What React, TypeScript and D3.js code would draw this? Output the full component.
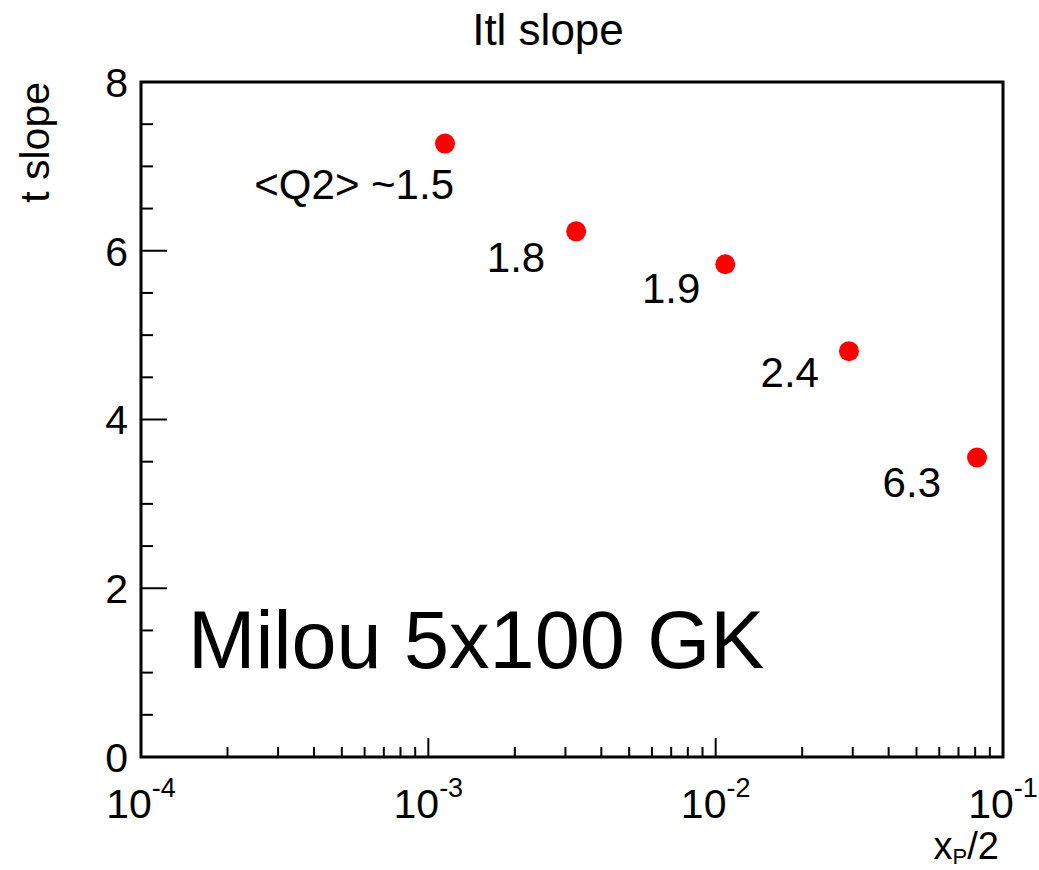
import React from "react";
import * as d3 from "d3";

// ---- data ----
const xValues: number[] = [1.143e-3, 3.27e-3, 1.08e-2, 2.91e-2, 8.12e-2];
const tSlopes: number[] = [7.27, 6.23, 5.84, 4.81, 3.55];
const pointLabels: string[] = ["<Q2> ~1.5", "1.8", "1.9", "2.4", "6.3"];
const xDecades: number[] = [1e-4, 1e-3, 1e-2, 1e-1];
const xDecadeExponents: string[] = ["-4", "-3", "-2", "-1"];
const yTicks: number[] = [0, 2, 4, 6, 8];

// label offsets relative to their point (text-anchor end)
const labelOffsets: [number, number][] = [
  [9, 55],
  [-31, 41],
  [-25, 39],
  [-30, 36],
  [-36, 40],
];

const W = 1039;
const H = 870;
const FONT = "'Liberation Sans', Arial, Helvetica, sans-serif";

export default function App() {
  const left = 141, right = 1003, top = 82, bottom = 757;
  const x = d3.scaleLog().domain([1e-4, 1e-1]).range([left, right]);
  const y = d3.scaleLinear().domain([0, 8]).range([bottom, top]);

  const minorX: number[] = [];
  for (let i = 0; i < xDecades.length - 1; i++) {
    for (let k = 2; k <= 9; k++) minorX.push(xDecades[i] * k);
  }
  const minorY: number[] = d3.range(0.5, 8, 0.5).filter((v) => v % 2 !== 0);

  return (
    <div style={{ position: "fixed", left: 0, top: 0 }}>
      <svg width={W} height={H} style={{ display: "block", background: "#fff" }} fontFamily={FONT}>
        <rect x={0} y={0} width={W} height={H} fill="#fff" />
        {/* title */}
        <text x={548} y={45} fontSize={44} textAnchor="middle" fill="#000">
          Itl slope
        </text>
        {/* y axis title */}
        <text
          transform={`translate(49, ${top}) rotate(-90)`}
          fontSize={41}
          textAnchor="end"
          fill="#000"
        >
          t slope
        </text>
        {/* x axis title */}
        <text x={999} y={859} fontSize={38} textAnchor="end" fill="#000">
          <tspan>x</tspan>
          <tspan fontSize={22} dy={5}>P</tspan>
          <tspan dy={-5}>/2</tspan>
        </text>

        {/* minor ticks */}
        {minorX.map((v, i) => (
          <line key={"mx" + i} x1={x(v)} x2={x(v)} y1={bottom} y2={bottom - 10} stroke="#000" strokeWidth={2} />
        ))}
        {xDecades.map((v, i) => (
          <line key={"Mx" + i} x1={x(v)} x2={x(v)} y1={bottom} y2={bottom - 19} stroke="#000" strokeWidth={2} />
        ))}
        {minorY.map((v, i) => (
          <line key={"my" + i} x1={left} x2={left + 12} y1={y(v)} y2={y(v)} stroke="#000" strokeWidth={2} />
        ))}
        {yTicks.map((v, i) => (
          <line key={"My" + i} x1={left} x2={left + 26} y1={y(v)} y2={y(v)} stroke="#000" strokeWidth={2} />
        ))}

        {/* frame */}
        <rect x={left} y={top} width={right - left} height={bottom - top} fill="none" stroke="#000" strokeWidth={3} />

        {/* y tick labels */}
        {yTicks.map((v, i) => (
          <text key={"yl" + i} x={128} y={y(v)} dy="0.36em" fontSize={41} textAnchor="end" fill="#000">
            {v}
          </text>
        ))}
        {/* x tick labels */}
        {xDecades.map((v, i) => (
          <text key={"xl" + i} x={x(v)} y={818} fontSize={41} textAnchor="middle" fill="#000">
            <tspan>10</tspan>
            <tspan fontSize={27} dy={-21}>{xDecadeExponents[i]}</tspan>
          </text>
        ))}

        {/* points */}
        {xValues.map((v, i) => (
          <circle key={"p" + i} cx={x(v)} cy={y(tSlopes[i])} r={10} fill="#ff0000" />
        ))}
        {/* point labels */}
        {xValues.map((v, i) => (
          <text
            key={"pl" + i}
            x={x(v) + labelOffsets[i][0]}
            y={y(tSlopes[i]) + labelOffsets[i][1]}
            fontSize={42}
            textAnchor="end"
            fill="#000"
          >
            {pointLabels[i]}
          </text>
        ))}

        {/* annotation */}
        <text x={188} y={668} fontSize={81} fill="#000">
          Milou 5x100 GK
        </text>
      </svg>
    </div>
  );
}
